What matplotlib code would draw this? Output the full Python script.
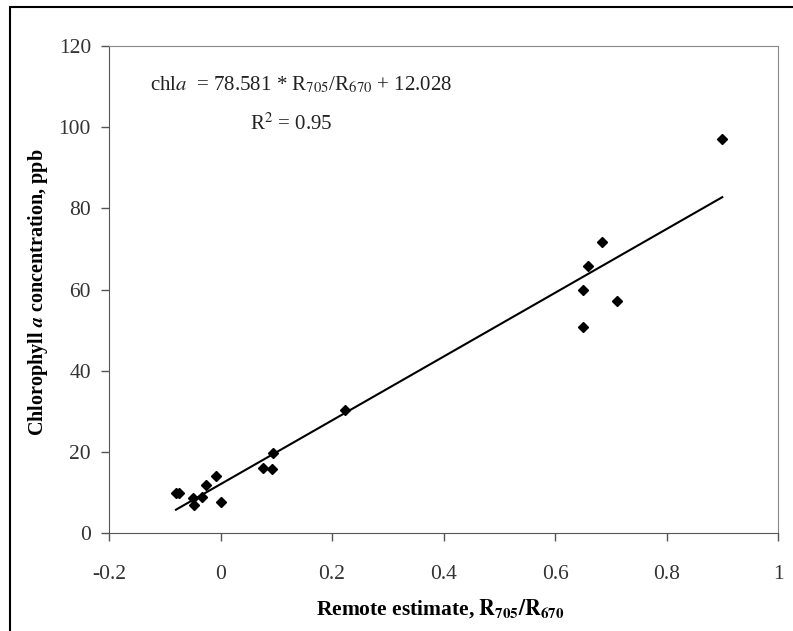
import matplotlib
matplotlib.use('Agg')
import matplotlib.pyplot as plt
from matplotlib.patches import Rectangle

plt.rcParams['font.family'] = 'serif'
plt.rcParams['font.serif'] = ['Liberation Serif', 'DejaVu Serif']
plt.rcParams['mathtext.fontset'] = 'stix'

# ratio R705/R670 vs chlorophyll a (ppb)
ratio = [-0.080, -0.075, -0.049, -0.048, -0.033, -0.026, -0.008, 0.001,
         0.076, 0.092, 0.094, 0.223, 0.650, 0.650, 0.659, 0.684, 0.711, 0.900]
chla = [9.9, 9.9, 8.6, 6.9, 8.9, 11.8, 14.0, 7.6,
        16.0, 15.8, 19.7, 30.3, 59.9, 50.8, 65.8, 71.7, 57.2, 97.1]

pente = 78.581
origine = 12.028
x_ticks = [-0.2, 0, 0.2, 0.4, 0.6, 0.8, 1]
x_labels = ['-0.2', '0', '0.2', '0.4', '0.6', '0.8', '1']
y_ticks = [0, 20, 40, 60, 80, 100, 120]

fig = plt.figure(figsize=(7.93, 6.31), dpi=100)
ax = fig.add_axes([0.1375, 0.1553, 0.8436, 0.7718])

# droite de regression entre le min et le max
x_fit = [min(ratio), max(ratio)]
y_fit = [pente * v + origine for v in x_fit]
ax.plot(x_fit, y_fit, color='black', linewidth=1.5)
ax.plot(ratio, chla, linestyle='none', marker='D', markersize=5.5,
        color='black')

ax.set_xlim(-0.2, 1)
ax.set_ylim(0, 120)
ax.set_xticks(x_ticks)
ax.set_xticklabels(x_labels)
ax.set_yticks(y_ticks)
ax.tick_params(axis='both', direction='out', length=6, width=1,
               colors='#555555', labelcolor='#333333', labelsize=15.5)
ax.tick_params(axis='x', pad=17)
ax.tick_params(axis='y', pad=7)
for cote in ['left', 'bottom']:
    ax.spines[cote].set_color('#555555')
for cote in ['top', 'right']:
    ax.spines[cote].set_color('#888888')

fig.text(150 / 793, 1 - 85 / 631,
         r'chl$\mathit{a}$  = 78.581 * R$_{705}$/R$_{670}$ + 12.028',
         fontsize=15, ha='left', va='center', color='#222222')
fig.text(291 / 793, 1 - 124 / 631, r'R$^{2}$ = 0.95',
         fontsize=15, ha='center', va='center', color='#222222')

fig.text(440 / 793, 1 - 609 / 631,
         r'Remote estimate, $\mathbf{R_{705}/R_{670}}$',
         fontsize=15.5, fontweight='bold', ha='center', va='center')
fig.text(38 / 793, 1 - 292 / 631,
         r'Chlorophyll $\mathbfit{a}$ concentration, ppb',
         fontsize=14.5, fontweight='bold', ha='center', va='center',
         rotation=90)

# cadre exterieur
fig.patches.append(Rectangle((10 / 793, -0.1), 1.2, 1 - 7 / 631 + 0.1,
                             transform=fig.transFigure, fill=False,
                             edgecolor='black', linewidth=1.5))

fig.savefig('out.png', dpi=100)
